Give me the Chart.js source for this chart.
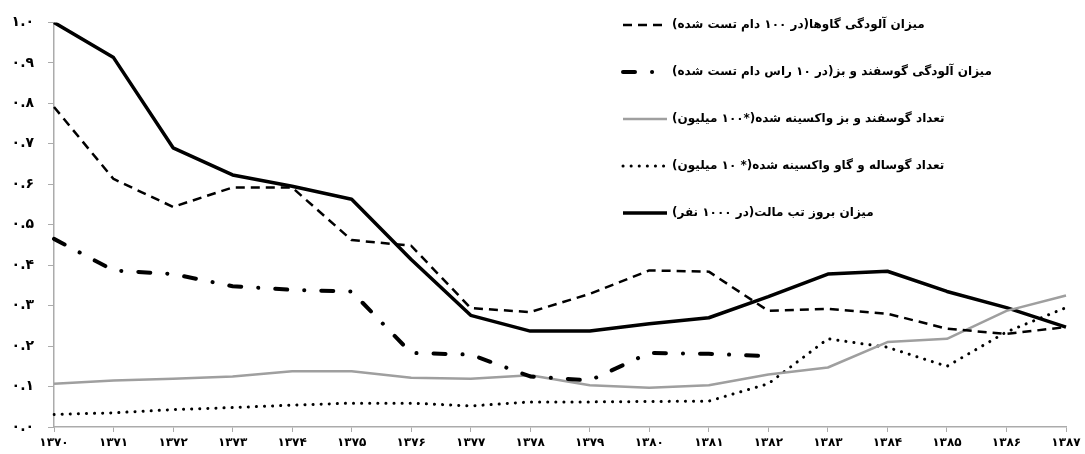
<!DOCTYPE html>
<html>
<head>
<meta charset="utf-8">
<script src="https://cdn.jsdelivr.net/npm/chart.js@4.4.1/dist/chart.umd.min.js"></script>
<style>
  body { margin: 0; background: #fff; }
  .wrap { width: 1085px; height: 454px; position: relative; }
</style>
</head>
<body>
<div class="wrap"><canvas id="myChart"></canvas></div>
<script>
// years 1370..1387
const years = ['۱۳۷۰', '۱۳۷۱', '۱۳۷۲', '۱۳۷۳', '۱۳۷۴', '۱۳۷۵', '۱۳۷۶', '۱۳۷۷', '۱۳۷۸',
  '۱۳۷۹', '۱۳۸۰', '۱۳۸۱', '۱۳۸۲', '۱۳۸۳', '۱۳۸۴', '۱۳۸۵', '۱۳۸۶', '۱۳۸۷']

const cattleInfection = [0.791, 0.613, 0.544, 0.592, 0.592, 0.462, 0.448, 0.294, 0.284,
  0.329, 0.387, 0.384, 0.287, 0.292, 0.28, 0.243, 0.23, 0.247]
const sheepInfection = [0.465, 0.387, 0.378, 0.348, 0.339, 0.335, 0.183, 0.179, 0.125,
  0.115, 0.183, 0.181, 0.175, null, null, null, null, null]
const sheepVaccinated = [0.107, 0.115, 0.119, 0.125, 0.138, 0.138, 0.122, 0.119, 0.128,
  0.103, 0.097, 0.103, 0.13, 0.147, 0.21, 0.218, 0.287, 0.325]
const cattleVaccinated = [0.031, 0.035, 0.043, 0.048, 0.054, 0.059, 0.059, 0.052, 0.062,
  0.062, 0.063, 0.064, 0.107, 0.218, 0.197, 0.15, 0.235, 0.295]
const feverRate = [1.0, 0.913, 0.69, 0.623, 0.595, 0.563, 0.414, 0.276, 0.237,
  0.237, 0.255, 0.27, 0.322, 0.378, 0.385, 0.335, 0.295, 0.247]

const seriesNames = [
  'میزان آلودگی گاوها(در ۱۰۰ دام تست شده)',
  'میزان آلودگی گوسفند و بز(در ۱۰ راس دام تست شده)',
  'تعداد گوسفند و بز واکسینه شده(*۱۰۰ میلیون)',
  'تعداد گوساله و گاو واکسینه شده(* ۱۰ میلیون)',
  'میزان بروز تب مالت(در ۱۰۰۰ نفر)'
]

const faDigits = '۰۱۲۳۴۵۶۷۸۹'
const toFa = (s) => String(s).replace(/[0-9]/g, d => faDigits[d])

const axisColor = '#ababab'
const fontFamily = '"DejaVu Sans", sans-serif'

// legend drawn over the top right of the plot, one row per dataset
const legendBox = {
  id: 'legendBox',
  afterDraw(chart) {
    const ctx = chart.ctx
    ctx.save()
    chart.data.datasets.forEach((ds, i) => {
      const y = 25 + i * 47
      ctx.beginPath()
      ctx.strokeStyle = ds.borderColor
      ctx.lineWidth = ds.borderWidth
      ctx.lineCap = ds.borderCapStyle || 'butt'
      ctx.setLineDash(ds.borderDash || [])
      ctx.moveTo(623, y)
      ctx.lineTo(667, y)
      ctx.stroke()

      ctx.setLineDash([])
      ctx.fillStyle = '#000'
      ctx.font = 'bold 12px ' + fontFamily
      ctx.direction = 'rtl'
      ctx.textAlign = 'left'
      ctx.textBaseline = 'middle'
      ctx.fillText(ds.label, 672, y)
    })
    ctx.restore()
  }
}

let ctx = document.querySelector('#myChart').getContext('2d')

let myChart = new Chart(ctx, {
  type: 'line',
  data: {
    labels: years,
    datasets: [{
      label: seriesNames[0],
      data: cattleInfection,
      borderColor: '#000',
      borderWidth: 2.5,
      borderDash: [9, 6]
    }, {
      label: seriesNames[1],
      data: sheepInfection,
      borderColor: '#000',
      borderWidth: 4,
      borderCapStyle: 'round',
      borderDash: [12, 17, 0.1, 17]
    }, {
      label: seriesNames[2],
      data: sheepVaccinated,
      borderColor: '#9f9f9f',
      borderWidth: 2.5
    }, {
      label: seriesNames[3],
      data: cattleVaccinated,
      borderColor: '#000',
      borderWidth: 3,
      borderCapStyle: 'round',
      borderDash: [0.1, 8]
    }, {
      label: seriesNames[4],
      data: feverRate,
      borderColor: '#000',
      borderWidth: 3.5
    }]
  },
  options: {
    responsive: true,
    maintainAspectRatio: false,
    animation: false,
    layout: {
      padding: { top: 21, right: 19, left: 0, bottom: 0 }
    },
    elements: {
      point: { radius: 0 },
      line: { tension: 0, borderJoinStyle: 'round' }
    },
    plugins: {
      legend: { display: false },
      tooltip: { enabled: false }
    },
    scales: {
      x: {
        offset: false,
        grid: {
          drawOnChartArea: false,
          color: axisColor,
          tickLength: 5
        },
        border: { color: axisColor, width: 1.5 },
        ticks: {
          autoSkip: false,
          maxRotation: 0,
          padding: 4,
          color: '#000',
          font: { family: fontFamily, size: 12, weight: 'bold' }
        },
        afterFit(scale) { scale.height = 27 }
      },
      y: {
        min: 0,
        max: 1,
        grid: {
          drawOnChartArea: false,
          color: axisColor,
          tickLength: 6
        },
        border: { color: axisColor, width: 1.5 },
        ticks: {
          stepSize: 0.1,
          padding: 14,
          color: '#000',
          font: { family: fontFamily, size: 14, weight: 'bold' },
          callback: (v) => toFa(v.toFixed(1))
        },
        afterFit(scale) { scale.width = 54 }
      }
    }
  },
  plugins: [legendBox]
})
</script>
</body>
</html>
